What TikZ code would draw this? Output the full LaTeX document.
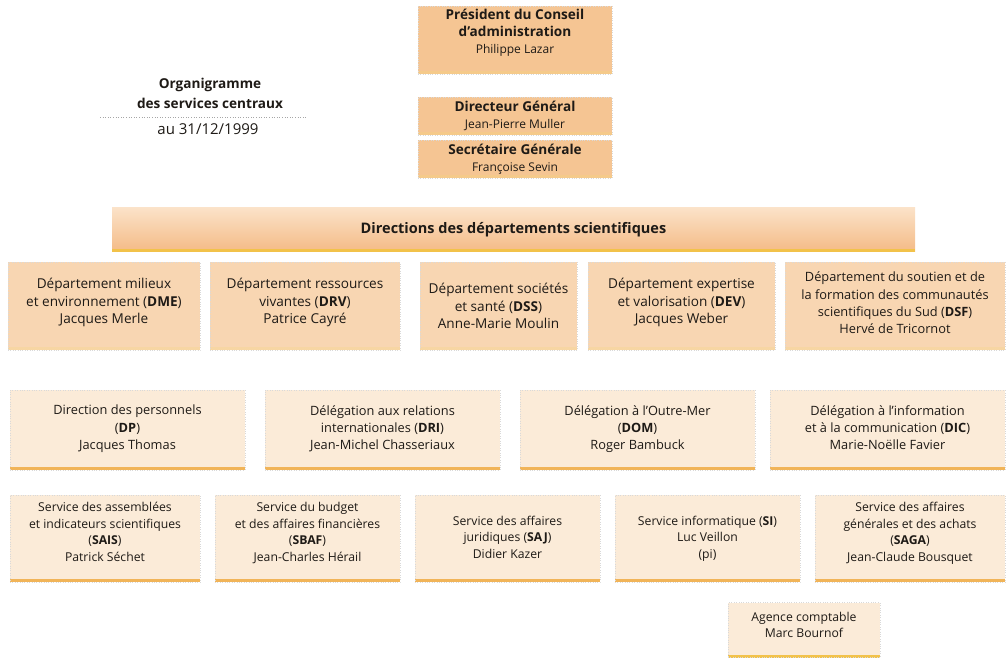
\documentclass[tikz,border=0pt]{standalone}
\usepackage{fontspec}
\setmainfont{Open Sans}
\definecolor{topfill}{HTML}{F5C593}
\definecolor{deptfill}{HTML}{F8D6B2}
\definecolor{lightfill}{HTML}{FBEBD8}
\definecolor{barcol}{HTML}{F1B458}
\definecolor{bannertop}{HTML}{FBE2C8}
\definecolor{bannerbot}{HTML}{F4BA85}
\definecolor{bannerbar}{HTML}{F2C24A}
\definecolor{ink}{HTML}{1E1A16}
\tikzset{
  card/.style={draw=gray!30, dotted, align=center, inner sep=0pt, text=ink},
  bottombar/.style={path picture={\fill[#1]
    ([yshift=3pt]path picture bounding box.south west)
    rectangle (path picture bounding box.south east);}},
  topbox/.style={card, fill=topfill, minimum width=194pt,
    font=\fontsize{12}{17}\selectfont, bottombar=barcol!70},
  deptbox/.style={card, fill=deptfill, minimum height=88pt, bottombar=barcol!55,
    font=\fontsize{13.6}{17.5}\selectfont},
  delbox/.style={card, fill=lightfill, minimum width=235pt, minimum height=80pt,
    bottombar=barcol, font=\fontsize{12.8}{17.4}\selectfont, text depth=5pt},
  servbox/.style={card, fill=lightfill, minimum height=87pt, bottombar=barcol,
    font=\fontsize{12.2}{16.6}\selectfont},
  titletext/.style={align=center, text=ink, inner sep=0pt}
}
\newcommand{\hd}[1]{{\bfseries\fontsize{13.6}{17}\selectfont #1}}
\begin{document}
\begin{tikzpicture}[x=1pt,y=-1pt]
\useasboundingbox (0,0) rectangle (1007,660);

% title block
\node[titletext, font=\bfseries\fontsize{13.6}{20}\selectfont] (ttl) at (210,93)
  {Organigramme\\des services centraux};
\coordinate (rulel) at (100,117);
\coordinate (ruler) at (307,117);
\draw[gray!70, dotted, line width=0.6pt] (rulel) -- (ruler);
\node[titletext, font=\fontsize{15}{17}\selectfont] (date) at (208,129) {au 31/12/1999};

% governing bodies
\node[topbox, minimum height=68pt, text depth=18pt] (pres) at (515,40)
  {\hd{Président du Conseil}\\\hd{d’administration}\\Philippe Lazar};
\node[topbox, minimum height=38pt] (dg) at (515,116)
  {\hd{Directeur Général}\\Jean-Pierre Muller};
\node[topbox, minimum height=38pt] (sg) at (515,159)
  {\hd{Secrétaire Générale}\\Françoise Sevin};

% banner
\node[draw=none, top color=bannertop, bottom color=bannerbot, minimum width=803pt,
  minimum height=44pt, inner sep=0pt, text=ink, bottombar=bannerbar,
  font=\bfseries\fontsize{14.5}{16}\selectfont] (dirs) at (513.5,230)
  {Directions des départements scientifiques};

% scientific departments
\node[deptbox, minimum width=192pt, text depth=10pt] (dme) at (104,306)
  {Département milieux\\et environnement (\textbf{DME})\\Jacques Merle};
\node[deptbox, minimum width=190pt, text depth=10pt] (drv) at (305,306)
  {Département ressources\\vivantes (\textbf{DRV})\\Patrice Cayré};
\node[deptbox, minimum width=157pt] (dss) at (498.5,306)
  {Département sociétés\\et santé (\textbf{DSS})\\Anne-Marie Moulin};
\node[deptbox, minimum width=187pt, text depth=10pt] (dev) at (681.5,306)
  {Département expertise\\et valorisation (\textbf{DEV})\\Jacques Weber};
\node[deptbox, minimum width=220pt, font=\fontsize{12.8}{17.3}\selectfont,
  text depth=6pt] (dsf) at (895,306)
  {Département du soutien et de\\la formation des communautés\\scientifiques du Sud (\textbf{DSF})\\Hervé de Tricornot};

% delegations
\node[delbox] (dp) at (127.5,430)
  {Direction des personnels\\(\textbf{DP})\\Jacques Thomas};
\node[delbox] (dri) at (382.5,430)
  {Délégation aux relations\\internationales (\textbf{DRI})\\Jean-Michel Chasseriaux};
\node[delbox] (dom) at (637.5,430)
  {Délégation à l’Outre-Mer\\(\textbf{DOM})\\Roger Bambuck};
\node[delbox] (dic) at (887.5,430)
  {Délégation à l’information\\et à la communication (\textbf{DIC})\\Marie-Noëlle Favier};

% services
\node[servbox, minimum width=190pt, text depth=13pt] (sais) at (105,538.5)
  {Service des assemblées\\et indicateurs scientifiques\\(\textbf{SAIS})\\Patrick Séchet};
\node[servbox, minimum width=185pt, text depth=13pt] (sbaf) at (307.5,538.5)
  {Service du budget\\et des affaires financières\\(\textbf{SBAF})\\Jean-Charles Hérail};
\node[servbox, minimum width=185pt, text depth=3pt] (saj) at (507.5,538.5)
  {Service des affaires\\juridiques (\textbf{SAJ})\\Didier Kazer};
\node[servbox, minimum width=185pt, text depth=3pt] (si) at (707.5,538.5)
  {Service informatique (\textbf{SI})\\Luc Veillon\\(pi)};
\node[servbox, minimum width=190pt, text depth=13pt] (saga) at (910,538.5)
  {Service des affaires\\générales et des achats\\(\textbf{SAGA})\\Jean-Claude Bousquet};

% accounting agency
\node[card, fill=lightfill, minimum width=152pt, minimum height=55pt,
  font=\fontsize{12.2}{16}\selectfont, text depth=10pt,
  bottombar=bannerbar] (agence) at (804,630)
  {Agence comptable\\Marc Bournof};
\end{tikzpicture}
\end{document}
